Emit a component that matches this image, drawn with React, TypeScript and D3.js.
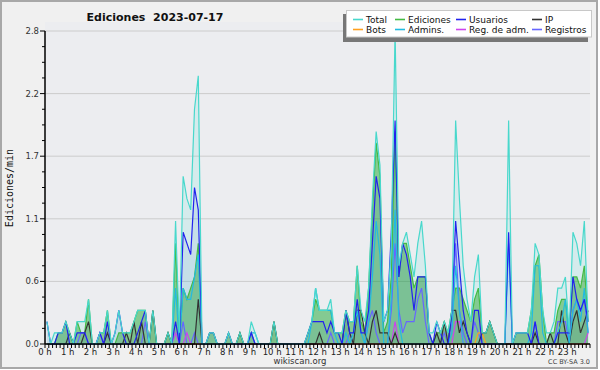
import React from 'react';
import * as d3 from 'd3';

// 10-minute bins, 144 per day (values in edits/min)
const HOURS = d3.range(24).map((h) => `${h} h`);
const Y_TICKS = [0, 0.56, 1.12, 1.68, 2.24, 2.8];

const total = [
  0.2, 0, 0.1, 0.1, 0.1, 0.2, 0.1, 0, 0.2, 0.2, 0.2, 0.4,
  0, 0, 0.1, 0.1, 0.3, 0, 0.1, 0.3, 0.1, 0.1, 0.1, 0.2,
  0.3, 0.3, 0.3, 0, 0.3, 0, 0, 0, 0.1, 0, 1.1, 0.1,
  1.5, 1.3, 1.2, 2.1, 2.4, 0, 0, 0.1, 0.1, 0, 0, 0,
  0.1, 0, 0, 0.1, 0, 0, 0.2, 0.1, 0, 0, 0, 0,
  0.2, 0, 0, 0, 0, 0, 0, 0, 0, 0.1, 0.2, 0.5,
  0.3, 0.3, 0.3, 0.4, 0.1, 0.1, 0.1, 0.3, 0.2, 0.2, 0.7, 0.3,
  0.2, 0.5, 1.3, 1.9, 1.6, 0.2, 0.3, 0.9, 2.8, 0.7, 0.9, 1.0,
  0.8, 0.6, 0.9, 1.1, 0.7, 0.1, 0.1, 0.2, 0.1, 0.2, 0.1, 0.3,
  2.0, 1.3, 0.7, 0.4, 0.2, 0.6, 0.8, 0.1, 0.1, 0.2, 0.1, 0,
  0, 0, 2.0, 0, 0.1, 0.1, 0.1, 0.1, 0.3, 0.9, 0.8, 0.3,
  0.1, 0.1, 0.2, 0.5, 0.5, 0.6, 0.1, 1.0, 0.9, 0.7, 1.1, 0.2,
];

const ediciones = [
  0, 0, 0, 0.1, 0.1, 0.2, 0.1, 0, 0.2, 0.1, 0.1, 0.4,
  0, 0, 0.1, 0.1, 0.3, 0, 0, 0.1, 0.1, 0.1, 0.1, 0.2,
  0.3, 0.3, 0.3, 0, 0.3, 0, 0, 0, 0.1, 0, 0.9, 0,
  0.5, 0.4, 0.5, 0.6, 0.9, 0, 0, 0.1, 0.1, 0, 0, 0,
  0.1, 0, 0, 0.1, 0, 0, 0.1, 0, 0, 0, 0, 0,
  0.2, 0, 0, 0, 0, 0, 0, 0, 0, 0.1, 0.2, 0.4,
  0.3, 0.3, 0.3, 0.3, 0.1, 0.1, 0.1, 0.3, 0.2, 0.2, 0.7, 0.2,
  0.1, 0.5, 1.2, 1.8, 1.5, 0.1, 0.2, 0.6, 1.9, 0.6, 0.9, 0.9,
  0.7, 0.5, 0.6, 0.6, 0.6, 0.1, 0, 0.1, 0.1, 0.2, 0.1, 0.3,
  0.5, 0.5, 0.4, 0.3, 0.2, 0.4, 0.5, 0.1, 0.1, 0.2, 0.1, 0,
  0, 0, 0, 0, 0.1, 0.1, 0.1, 0.1, 0.3, 0.7, 0.8, 0.3,
  0, 0.1, 0.1, 0.3, 0.4, 0.4, 0.1, 0.6, 0.6, 0.5, 0.7, 0.2,
];

const usuarios = [
  0.2, 0, 0, 0.1, 0.1, 0.2, 0, 0, 0.1, 0.1, 0.1, 0,
  0, 0, 0.1, 0, 0.2, 0, 0.1, 0.3, 0.1, 0, 0, 0,
  0.1, 0.2, 0.3, 0, 0, 0, 0, 0, 0, 0, 0.2, 0,
  1.0, 0.9, 0.8, 1.4, 1.2, 0, 0, 0.1, 0.1, 0, 0, 0,
  0.1, 0, 0, 0, 0, 0, 0.1, 0, 0, 0, 0, 0,
  0, 0, 0, 0, 0, 0, 0, 0, 0, 0.1, 0.2, 0.2,
  0.2, 0.2, 0.1, 0.2, 0.1, 0.1, 0, 0.3, 0.1, 0.1, 0.4, 0.1,
  0.1, 0.3, 0.9, 1.5, 1.3, 0.2, 0.3, 1.0, 2.0, 0.6, 0.9, 0.8,
  0.6, 0.3, 0.6, 0.6, 0.6, 0.1, 0, 0.2, 0.1, 0, 0, 0.3,
  1.1, 0.7, 0.3, 0.1, 0, 0.3, 0.3, 0, 0, 0, 0, 0,
  0, 0, 1.0, 0, 0.1, 0.1, 0.1, 0.1, 0, 0.2, 0, 0,
  0, 0, 0, 0.1, 0.1, 0.1, 0.1, 0.6, 0.4, 0.3, 0.4, 0.2,
];

const ip = [
  0, 0, 0, 0, 0, 0, 0.1, 0, 0, 0, 0.1, 0.2,
  0, 0, 0, 0, 0.1, 0, 0, 0, 0, 0.1, 0, 0.2,
  0, 0.2, 0, 0, 0.3, 0, 0, 0, 0.1, 0, 0, 0,
  0, 0, 0, 0, 0.4, 0, 0, 0, 0, 0, 0, 0,
  0, 0, 0, 0.1, 0, 0, 0, 0, 0, 0, 0, 0,
  0.2, 0, 0, 0, 0, 0, 0, 0, 0, 0, 0, 0,
  0.1, 0, 0, 0, 0, 0, 0, 0.3, 0.1, 0, 0.3, 0.3,
  0.1, 0, 0.2, 0.3, 0.1, 0.1, 0.1, 0, 0.1, 0, 0, 0,
  0, 0, 0, 0, 0, 0, 0, 0.1, 0, 0.2, 0, 0.3,
  0.3, 0.1, 0.2, 0.1, 0, 0, 0, 0.1, 0.1, 0.2, 0.1, 0,
  0, 0, 0, 0, 0, 0, 0, 0, 0, 0.1, 0, 0,
  0, 0.1, 0, 0, 0.3, 0.1, 0, 0.2, 0.3, 0.1, 0.2, 0.3,
];

const bots = [
  0, 0, 0, 0, 0, 0, 0, 0, 0, 0, 0, 0,
  0, 0, 0, 0, 0, 0, 0, 0, 0, 0, 0, 0,
  0, 0, 0, 0, 0, 0, 0, 0, 0, 0, 0, 0,
  0, 0, 0, 0, 0, 0, 0, 0, 0, 0, 0, 0,
  0, 0, 0, 0, 0, 0, 0, 0, 0, 0, 0, 0,
  0, 0, 0, 0, 0, 0, 0, 0, 0, 0, 0, 0,
  0, 0, 0, 0, 0, 0, 0, 0, 0, 0, 0, 0,
  0, 0, 0, 0, 0, 0, 0, 0, 0, 0, 0, 0,
  0, 0, 0, 0, 0, 0, 0, 0, 0, 0, 0, 0,
  0, 0, 0, 0, 0, 0, 0.1, 0.1, 0, 0, 0, 0,
  0, 0, 0, 0, 0, 0, 0, 0, 0, 0, 0, 0,
  0, 0, 0, 0, 0, 0, 0, 0, 0, 0, 0, 0,
];

const admins = [
  0, 0, 0, 0, 0, 0, 0, 0, 0, 0, 0, 0,
  0, 0, 0, 0, 0, 0, 0, 0, 0, 0, 0, 0,
  0, 0, 0, 0, 0, 0, 0, 0, 0, 0, 0.5, 0,
  0.5, 0.4, 0.4, 0.6, 0.8, 0, 0, 0, 0, 0, 0, 0,
  0, 0, 0, 0, 0, 0, 0.1, 0.1, 0, 0, 0, 0,
  0, 0, 0, 0, 0, 0, 0, 0, 0, 0, 0.2, 0.5,
  0.3, 0.3, 0.3, 0.3, 0.1, 0, 0, 0.1, 0, 0.1, 0.3, 0.1,
  0, 0.2, 0.6, 1.1, 0.8, 0, 0, 0.4, 1.2, 0.2, 0, 0,
  0, 0, 0, 0, 0, 0, 0, 0, 0, 0, 0, 0.1,
  0.7, 0.3, 0, 0, 0, 0, 0, 0, 0, 0, 0, 0,
  0, 0, 0.9, 0, 0, 0, 0, 0, 0.1, 0.7, 0.7, 0.1,
  0, 0, 0, 0.1, 0.2, 0.4, 0, 0.3, 0.4, 0.2, 0.5, 0.1,
];

const regAdm = [
  0, 0, 0, 0, 0, 0, 0, 0, 0, 0, 0, 0,
  0, 0, 0, 0, 0, 0, 0, 0, 0, 0, 0, 0,
  0, 0, 0, 0, 0, 0, 0, 0, 0, 0, 0.1, 0,
  0, 0.1, 0, 0, 0, 0, 0, 0, 0, 0, 0, 0,
  0, 0, 0, 0, 0, 0, 0, 0, 0, 0, 0, 0,
  0, 0, 0, 0, 0, 0, 0, 0, 0, 0, 0, 0,
  0, 0, 0, 0, 0, 0, 0, 0, 0, 0, 0, 0,
  0, 0, 0, 0, 0, 0, 0, 0, 0.2, 0, 0, 0,
  0, 0, 0, 0, 0, 0, 0, 0, 0, 0, 0, 0,
  0.2, 0.2, 0, 0, 0, 0, 0, 0, 0, 0, 0, 0,
  0, 0, 0, 0, 0, 0, 0, 0, 0, 0, 0, 0,
  0, 0, 0, 0, 0, 0, 0, 0, 0, 0, 0, 0.1,
];

const registros = [
  0, 0, 0, 0, 0, 0, 0, 0, 0, 0.1, 0.1, 0,
  0, 0, 0.1, 0, 0.1, 0, 0, 0, 0, 0, 0, 0,
  0, 0, 0.2, 0, 0, 0, 0, 0, 0, 0, 0, 0,
  0.2, 0, 0, 0.1, 0, 0, 0, 0, 0, 0, 0, 0,
  0, 0, 0, 0, 0, 0, 0.1, 0, 0, 0, 0, 0,
  0, 0, 0, 0, 0, 0, 0, 0, 0, 0, 0, 0,
  0, 0, 0, 0.1, 0, 0, 0, 0, 0.1, 0, 0, 0,
  0, 0.2, 0.3, 0.1, 0, 0, 0, 0.3, 0.9, 0.3, 0.1, 0.2,
  0.2, 0.2, 0.4, 0.5, 0.2, 0, 0, 0, 0, 0.1, 0, 0.2,
  0.9, 0.3, 0.1, 0, 0, 0.2, 0.1, 0, 0, 0, 0, 0,
  0, 0, 0, 0, 0, 0, 0, 0, 0, 0.2, 0, 0,
  0, 0, 0, 0.2, 0.2, 0.2, 0, 0.3, 0.4, 0.3, 0.4, 0.1,
];

const LEGEND = [
  { name: 'Total', color: '#48D8CC' },
  { name: 'Ediciones', color: '#44BB44' },
  { name: 'Usuarios', color: '#2222EE' },
  { name: 'IP', color: '#333333' },
  { name: 'Bots', color: '#FFA020' },
  { name: 'Admins.', color: '#22BBE0' },
  { name: 'Reg. de adm.', color: '#CC44EE' },
  { name: 'Registros', color: '#6666FF' },
];

const X0 = 45, X1 = 590, Y0 = 344, Y1 = 31;
const FONT = 'DejaVu Sans, Verdana, sans-serif';

export default function App() {
  const x = d3.scaleLinear().domain([0, 144]).range([X0, X1]);
  const y = d3.scaleLinear().domain([0, 2.8]).range([Y0, Y1]);
  const line = d3.line<number>().x((_, i) => x(i + 0.5)).y((d) => y(d));
  const area = d3.area<number>().x((_, i) => x(i + 0.5)).y0(y(0)).y1((d) => y(d));
  const minorY = d3.range(0, 21).map((k) => k * 0.14);
  const minorX = d3.range(0, 145);

  const lines: [number[], string][] = [
    [ediciones, LEGEND[1].color],
    [registros, LEGEND[7].color],
    [regAdm, LEGEND[6].color],
    [bots, LEGEND[4].color],
    [ip, LEGEND[3].color],
    [admins, LEGEND[5].color],
    [usuarios, LEGEND[2].color],
    [total, LEGEND[0].color],
  ];

  const legX = [366, 408, 469, 545];
  const legY = [23, 33];

  return (
    <svg width={600} height={370} style={{ position: 'absolute', left: 0, top: 0 }} fontFamily={FONT}>
      <rect x={0} y={0} width={600} height={370} fill="#ffffff" />
      <rect x={1} y={1} width={596} height={367} fill="#F0F0F0" stroke="#A8A8A8" strokeWidth={2} />
      <rect x={X0} y={22} width={X1 - X0} height={Y0 - 22} fill="#ECEDF0" />
      {Y_TICKS.slice(1).map((t) => (
        <line key={'g' + t} x1={X0} x2={X1} y1={y(t)} y2={y(t)} stroke="#CCCCCC" strokeWidth={1} />
      ))}
      <path d={area(total) || ''} fill="rgba(64,224,208,0.13)" />
      <path d={area(ediciones) || ''} fill="rgba(0,150,0,0.38)" />
      <path d={area(usuarios) || ''} fill="rgba(20,90,190,0.08)" />
      <path d={area(ip) || ''} fill="rgba(0,0,0,0.05)" />
      {lines.map(([arr, c], k) => (
        <path key={'l' + k} d={line(arr) || ''} fill="none" stroke={c} strokeWidth={1.2} strokeLinejoin="miter" />
      ))}
      {/* axes */}
      <line x1={X0} x2={X0} y1={Y1} y2={Y0} stroke="#000" strokeWidth={1.5} />
      <line x1={X0} x2={X1} y1={Y0} y2={Y0} stroke="#000" strokeWidth={1.5} />
      {minorY.map((t, k) => (
        <line key={'my' + k} x1={k % 4 === 0 ? 40 : 42} x2={X0} y1={y(t)} y2={y(t)} stroke="#000" strokeWidth={1} />
      ))}
      {Y_TICKS.map((t) => (
        <text key={'yl' + t} x={39} y={y(t) + 3} fontSize={8.5} textAnchor="end" fill="#333">
          {t.toFixed(1)}
        </text>
      ))}
      {minorX.map((k) => (
        <line key={'mx' + k} x1={x(k)} x2={x(k)} y1={Y0} y2={Y0 + 4} stroke="#000" strokeWidth={1} />
      ))}
      {HOURS.map((h, k) => (
        <text key={'xl' + k} x={x(k * 6)} y={355} fontSize={8.5} textAnchor="middle" fill="#222">
          {h}
        </text>
      ))}
      <text x={155} y={21} fontSize={11} fontWeight="bold" textAnchor="middle" fill="#111" style={{ whiteSpace: 'pre' }}>
        {'Ediciones  2023-07-17'}
      </text>
      <text transform="translate(13,188) rotate(-90)" fontSize={10} fontFamily="DejaVu Sans Mono, monospace" textAnchor="middle" fill="#111">
        Ediciones/min
      </text>
      <text x={300} y={364} fontSize={8.5} textAnchor="middle" fill="#333">wikiscan.org</text>
      <text x={590} y={364} fontSize={6.5} textAnchor="end" fill="#444">CC BY-SA 3.0</text>
      {/* legend */}
      <rect x={343} y={14} width={245} height={28} fill="#777" />
      <rect x={346.5} y={10.5} width={245} height={26.5} fill="#ffffff" stroke="#C8C8C8" />
      {LEGEND.map((l, k) => {
        const col = k % 4, row = Math.floor(k / 4);
        const tx = legX[col];
        const ty = legY[row];
        return (
          <g key={'lg' + k}>
            <line x1={tx - 13} x2={tx - 3} y1={ty - 3.5} y2={ty - 3.5} stroke={l.color} strokeWidth={1.6} />
            <text x={tx} y={ty} fontSize={9} fill="#111">{l.name}</text>
          </g>
        );
      })}
    </svg>
  );
}
